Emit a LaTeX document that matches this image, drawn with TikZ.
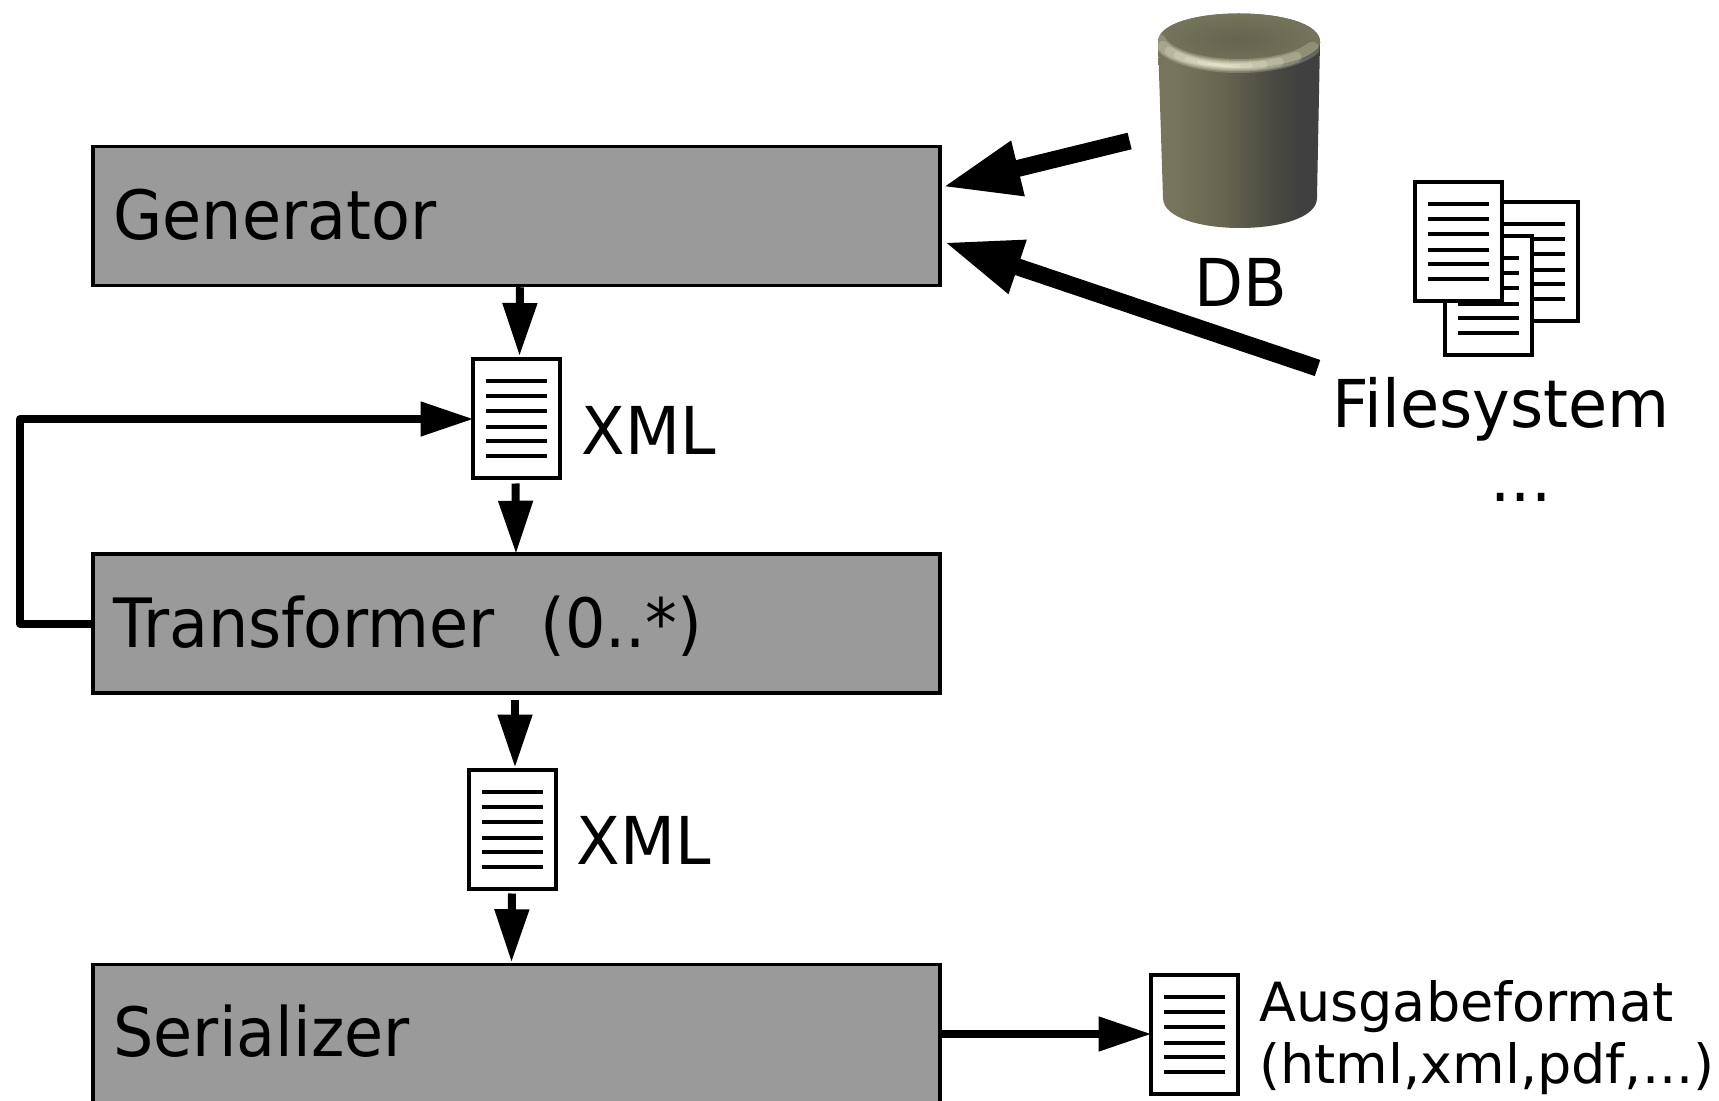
\documentclass[tikz,border=0pt]{standalone}
\usepackage{fontspec}
\setmainfont{DejaVu Sans}
\newfontfamily\boxfont[FakeStretch=0.935]{DejaVu Sans}
\newfontfamily\lblfont[FakeStretch=0.965]{DejaVu Sans}
\usetikzlibrary{shapes,arrows.meta}
\definecolor{boxgray}{RGB}{154,154,154}
\definecolor{dbtop}{rgb}{.39,.39,.31}
\definecolor{dbedge}{rgb}{.46,.46,.36}
\definecolor{dblight}{rgb}{1,1,.9}
\pgfdeclarehorizontalshading{dbbody}{100bp}{rgb(0bp)=(.43,.43,.34); rgb(30bp)=(.47,.46,.36); rgb(46bp)=(.40,.39,.31); rgb(60bp)=(.29,.29,.26); rgb(68bp)=(.25,.25,.25); rgb(100bp)=(.25,.25,.25)}
\tikzstyle{r} = [rectangle, minimum width=423.5pt, minimum height=69.5pt, text width=403pt, inner xsep=10.25pt, align=left, draw=black, line width=1.75pt, fill=boxgray, text height=23.5pt, text depth=0pt, font=\boxfont\fontsize{34}{40}\selectfont]
\tikzstyle{doc} = [rectangle, minimum width=43.5pt, minimum height=59.5pt, draw=black, line width=2pt, fill=white, path picture={
	\foreach \y in {18.75,11.25,3.75,-4.25,-11.25,-18.75}
		\draw[line width=2pt] ([xshift=-15.25pt,yshift=\y pt]path picture bounding box.center) -- ++(30.5pt,0);}]
\tikzstyle{lbl} = [inner sep=0pt, font=\lblfont\fontsize{33}{40}\selectfont]
\tikzstyle{flow} = [line width=4pt, -{Triangle[length=26.5pt,width=16.5pt]}]
\tikzstyle{bigflow} = [line width=8.5pt, -{Triangle[length=39pt,width=26pt]}]

\begin{document}
\begin{tikzpicture}[x=.5pt, y=-.5pt, node distance=102pt]
		\clip (0,0) rectangle (1719,1101);
		\node[r](generator) at (516.5,216){Generator};
		\node[doc,below of=generator, yshift=.5pt](xmlone){};
		\node[r,below of=xmlone, yshift=-.25pt](transformer){Transformer\ \ (0..*)};
		\node[doc,below of=transformer, xshift=-2.25pt, yshift=-.75pt](xmltwo){};
		\node[r,below of=xmltwo, xshift=2.25pt, yshift=-.5pt, text depth=1.3pt](serializer){Serializer};
		\node[doc,right of=serializer, xshift=237pt](xmlout){};
		\node[lbl,right of=xmlone, xshift=-36pt, yshift=-5.5pt](xmlonetext){XML};
		\node[lbl,right of=xmltwo, xshift=-36pt, yshift=-5.5pt](xmltwotext){XML};
		\node[lbl,align=left,font=\fontsize{27}{31}\selectfont] (outtext) at (1487,1038){Ausgabeformat\\(html,xml,pdf,...)};

		% cylinder
		\begin{scope}
			\clip (1158,42) .. controls (1158,4) and (1320,4) .. (1320,42) -- (1317,198) .. controls (1317,238) and (1163,238) .. (1163,198) -- cycle;
			\shade[shading=dbbody] (1155,0) rectangle (1323,240);
			\shade[inner color=dbtop, outer color=dbedge] (1239,40) ellipse [x radius=82, y radius=28];
			\foreach \w/\s/\e in {7/25/170,5.5/45/160,4.5/60/150,3.5/72/140,2.5/82/130,1.8/90/120,1.2/95/112}
				\draw[line width=\w pt, line cap=round, color=dblight, opacity=.2] ({1239+81*cos(\s)},{36+30*sin(\s)}) arc[start angle=\s, end angle=\e, x radius=81, y radius=30];
		\end{scope}
		\node[minimum width=81pt, minimum height=107pt, inner sep=0pt](db) at (1239,120){};
		\node[lbl](dbtext) at (1241,282){DB};

		\node[doc](filetwo) at (1534,262){};
		\node[doc](filethree) at (1488.5,296){};
		\node[doc](fileone) at (1458,241.5){};
		\node[lbl](filesystem) at (1501,409){Filesystem};
		\node[lbl](dots) at (1521,497.5){...};

		\draw[flow]([xshift=1.75pt]generator.south)--([xshift=1.5pt,yshift=.75pt]xmlone.north);
		\draw[flow]([xshift=-.5pt,yshift=-1.5pt]xmlone.south)--([xshift=-.25pt,yshift=-.75pt]transformer.north);
		\draw[flow]([yshift=-2.5pt,xshift=-.75pt]transformer.south)--([xshift=1.5pt]xmltwo.north);
		\draw[flow]([yshift=-1.5pt]xmltwo.south)--([xshift=-2.5pt,yshift=.25pt]serializer.north);
		\draw[flow](serializer.east)--([xshift=1.25pt]xmlout.west);
		\draw[flow,line join=round](transformer.west)-|(20,419)--([xshift=1.25pt]xmlone.west);
		\draw[bigflow]([xshift=-14pt,yshift=-10.5pt]db.west)--([xshift=.25pt,yshift=14.5pt]generator.east);
		\draw[bigflow]([xshift=-7.35pt,yshift=20.5pt]filesystem.west)--([xshift=1pt,yshift=-13pt]generator.east);
	\end{tikzpicture}
\end{document}
